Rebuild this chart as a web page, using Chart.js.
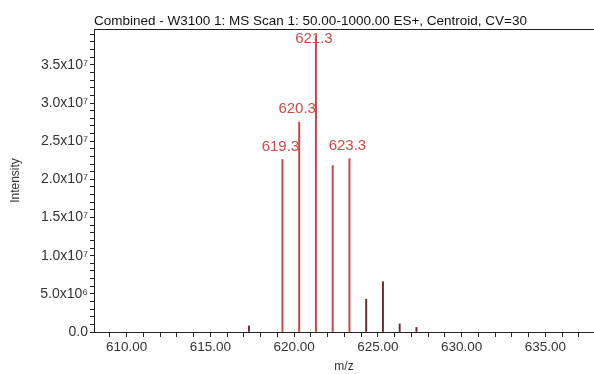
<!DOCTYPE html>
<html>
<head>
<meta charset="utf-8">
<script src="https://cdn.jsdelivr.net/npm/chart.js@4"></script>
<style>
    html, body { margin: 0; padding: 0; background: #fff; }
    #wrap { width: 594px; height: 374px; }
</style>
</head>
<body>
<div id="wrap"><canvas id="msChart"></canvas></div>
<script>
const chartTitle = "Combined - W3100 1: MS Scan 1: 50.00-1000.00 ES+, Centroid, CV=30";
const peakMz = [617.3, 619.3, 620.3, 621.3, 622.3, 623.3, 624.3, 625.3, 626.3, 627.3];
const peakIntensity = [8.0e5, 2.26e7, 2.75e7, 3.87e7, 2.18e7, 2.27e7, 4.3e6, 6.6e6, 1.05e6, 6.0e5];
const labeledPeaks = ["619.3", "620.3", "621.3", "623.3"];
const xTickValues = [610, 615, 620, 625, 630, 635];
const yTickLabels = ["0.0", "5.0x10⁶", "1.0x10⁷", "1.5x10⁷", "2.0x10⁷", "2.5x10⁷", "3.0x10⁷", "3.5x10⁷"];

const redColor = "#c84444";
const darkColor = "#6a2b2b";
const textColor = "#333333";

document.addEventListener("DOMContentLoaded", function () {
    const canvas = document.getElementById("msChart");

    // strong peaks drawn in red, weak ones in dark brown
    const barColors = peakIntensity.map(v => v > 1e7 ? redColor : darkColor);

    // peak labels, title and the top frame line
    const peakLabelPlugin = {
        id: "peakLabels",
        afterDatasetsDraw(chart) {
            const ctx = chart.ctx;
            const area = chart.chartArea;
            const meta = chart.getDatasetMeta(0);

            ctx.save();
            ctx.strokeStyle = "#222";
            ctx.lineWidth = 1;
            ctx.beginPath();
            ctx.moveTo(area.left, area.top + 0.5);
            ctx.lineTo(chart.width, area.top + 0.5);
            ctx.stroke();

            ctx.font = "15px 'Liberation Sans', Arial, sans-serif";
            ctx.fillStyle = "#cc4a4a";
            ctx.textAlign = "center";
            ctx.textBaseline = "middle";
            meta.data.forEach((bar, i) => {
                const label = peakMz[i].toFixed(1);
                if (!labeledPeaks.includes(label)) return;
                let y = bar.y - 13;
                if (y < area.top + 10) y = area.top + 10;
                ctx.fillText(label, bar.x - 2, y);
            });

            ctx.font = "13.5px 'Liberation Sans', Arial, sans-serif";
            ctx.fillStyle = "#111";
            ctx.textAlign = "left";
            ctx.fillText(chartTitle, area.left, 21);
            ctx.restore();
        }
    };

    new Chart(canvas, {
        type: "bar",
        data: {
            datasets: [{
                data: peakMz.map((mz, i) => ({ x: mz, y: peakIntensity[i] })),
                backgroundColor: barColors,
                borderWidth: 0,
                barThickness: 1.3
            }]
        },
        options: {
            responsive: true,
            maintainAspectRatio: false,
            animation: false,
            layout: {
                padding: { top: 29, right: 0, bottom: 0, left: 0 }
            },
            plugins: {
                legend: { display: false },
                tooltip: { enabled: false }
            },
            scales: {
                x: {
                    type: "linear",
                    min: 608.05,
                    max: 637.9,
                    offset: false,
                    afterFit: s => { s.height = 42; },
                    afterBuildTicks: s => {
                        const ticks = [];
                        for (let v = 609; v <= 637; v++) ticks.push({ value: v });
                        s.ticks = ticks;
                    },
                    border: { display: true, color: "#222", width: 1 },
                    grid: {
                        display: true,
                        drawOnChartArea: false,
                        drawTicks: true,
                        tickLength: 5,
                        color: "#222",
                        offset: false
                    },
                    ticks: {
                        autoSkip: false,
                        maxRotation: 0,
                        padding: 2,
                        color: textColor,
                        font: { family: "'Liberation Sans', Arial, sans-serif", size: 13.5 },
                        callback: v => xTickValues.includes(v) ? v.toFixed(2) : ""
                    },
                    title: {
                        display: true,
                        text: "m/z",
                        color: textColor,
                        padding: { top: 0, bottom: 0 },
                        font: { family: "'Liberation Sans', Arial, sans-serif", size: 12 }
                    }
                },
                y: {
                    min: 0,
                    max: 3.97e7,
                    afterFit: s => { s.width = 94; },
                    afterBuildTicks: s => {
                        const ticks = [];
                        for (let v = 0; v <= 39; v++) ticks.push({ value: v * 1e6 });
                        s.ticks = ticks;
                    },
                    border: { display: true, color: "#222", width: 1 },
                    grid: {
                        display: true,
                        drawOnChartArea: false,
                        drawTicks: true,
                        tickLength: 4,
                        color: "#222"
                    },
                    ticks: {
                        autoSkip: false,
                        padding: 2,
                        color: textColor,
                        font: { family: "'Liberation Sans', Arial, sans-serif", size: 14 },
                        callback: v => {
                            const k = Math.round(v / 5e6);
                            return Math.abs(v - k * 5e6) < 1 ? yTickLabels[k] : "";
                        }
                    },
                    title: {
                        display: true,
                        text: "Intensity",
                        color: textColor,
                        padding: { top: 8, bottom: 0 },
                        font: { family: "'Liberation Sans', Arial, sans-serif", size: 12 }
                    }
                }
            }
        },
        plugins: [peakLabelPlugin]
    });
});
</script>
</body>
</html>
